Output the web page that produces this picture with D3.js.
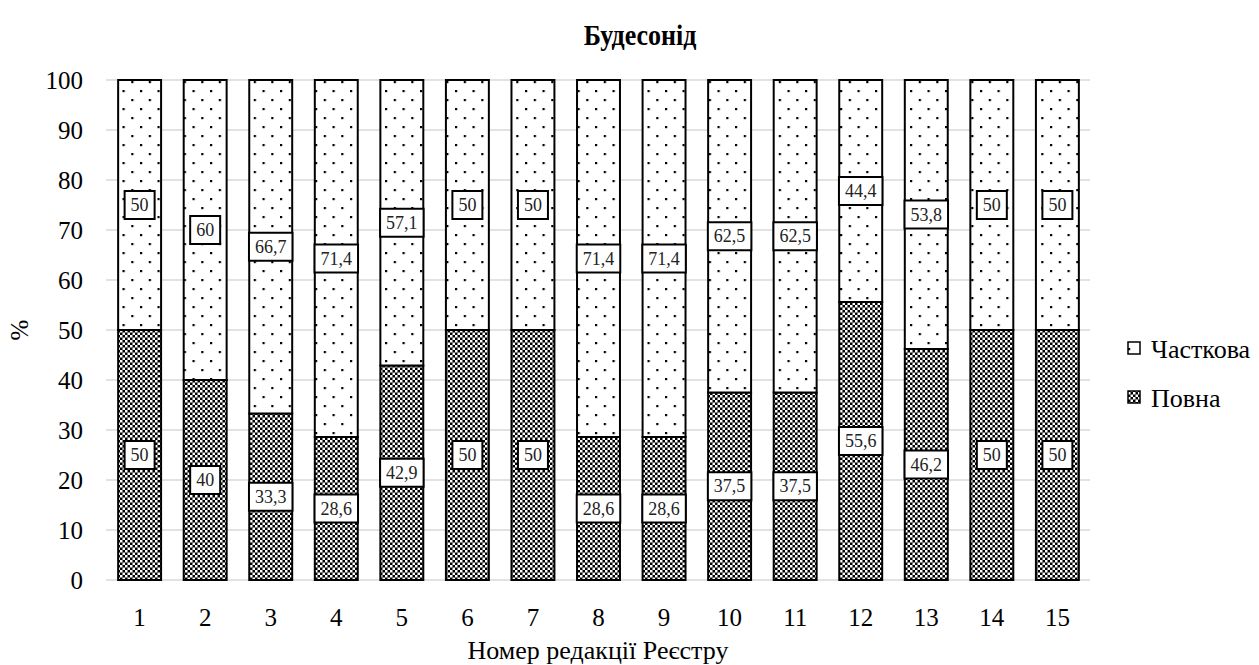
<!DOCTYPE html>
<html>
<head>
  <meta charset="UTF-8">
  <title>Будесонід</title>
  <style>
  body{
    margin: 0;
    background: #fff;
  }
  svg, svg text{
    font-family: "Liberation Serif", "DejaVu Serif", serif !important;
  }
  </style>
</head>
<body>
  <script src="https://cdn.jsdelivr.net/npm/d3@7/dist/d3.min.js"></script>
  <script type="text/javascript">
  // дані
  var categories = ['1','2','3','4','5','6','7','8','9','10','11','12','13','14','15'];
  var povna = [50, 40, 33.3, 28.6, 42.9, 50, 50, 28.6, 28.6, 37.5, 37.5, 55.6, 46.2, 50, 50];
  var chastkova = [50, 60, 66.7, 71.4, 57.1, 50, 50, 71.4, 71.4, 62.5, 62.5, 44.4, 53.8, 50, 50];
  var seriesNames = ['Повна', 'Часткова'];
  var yTicks = [0, 10, 20, 30, 40, 50, 60, 70, 80, 90, 100];

  var width = 1259, height = 665;
  var margin = {top: 80, left: 107, right: 169, bottom: 85};

  var svg = d3.select('body').append('svg')
    .attr('width', width)
    .attr('height', height);

  // візерунки
  var defs = svg.append('defs');
  var dots = defs.append('pattern')
    .attr('id', 'dots')
    .attr('patternUnits', 'userSpaceOnUse')
    .attr('width', 17.5).attr('height', 18);
  dots.append('rect').attr('width', 17.5).attr('height', 18).attr('fill', '#fff');
  dots.append('rect').attr('x', 0).attr('y', 0).attr('width', 2.2).attr('height', 2.2).attr('fill', '#000');
  dots.append('rect').attr('x', 8.75).attr('y', 9).attr('width', 2.2).attr('height', 2.2).attr('fill', '#000');

  var checker = defs.append('pattern')
    .attr('id', 'checker')
    .attr('patternUnits', 'userSpaceOnUse')
    .attr('width', 5).attr('height', 5);
  checker.append('rect').attr('width', 5).attr('height', 5).attr('fill', '#000');
  checker.append('rect').attr('x', 0).attr('y', 0).attr('width', 2.5).attr('height', 2.5).attr('fill', '#fff');
  checker.append('rect').attr('x', 2.5).attr('y', 2.5).attr('width', 2.5).attr('height', 2.5).attr('fill', '#fff');

  // шкали
  var x = d3.scaleBand()
    .domain(categories)
    .range([margin.left, width - margin.right])
    .paddingInner(0.345)
    .paddingOuter(0.17);
  var y = d3.scaleLinear()
    .domain([0, 100])
    .range([height - margin.bottom, margin.top]);

  // сітка
  svg.append('g').selectAll('line')
    .data(yTicks)
    .enter()
    .append('line')
    .attr('x1', margin.left - 1)
    .attr('x2', width - margin.right)
    .attr('y1', function(d){ return y(d); })
    .attr('y2', function(d){ return y(d); })
    .attr('stroke', '#d9d9d9')
    .attr('stroke-width', 1.5);

  // вісь Y
  var yAxis = svg.append('g')
    .attr('transform', 'translate(' + (margin.left - 24) + ',0)')
    .call(d3.axisLeft(y).tickValues(yTicks).tickSize(0).tickPadding(0));
  yAxis.select('.domain').remove();
  yAxis.attr('font-family', null);
  yAxis.selectAll('text').attr('font-size', 25).attr('fill', '#000');

  // вісь X
  var xAxis = svg.append('g')
    .attr('transform', 'translate(0,' + (height - margin.bottom) + ')')
    .call(d3.axisBottom(x).tickSize(0).tickPadding(28));
  xAxis.select('.domain').remove();
  xAxis.attr('font-family', null);
  xAxis.selectAll('text').attr('font-size', 25).attr('fill', '#000');

  // стовпці
  var stackData = categories.map(function(c, i){
    return {cat: c, 'Повна': povna[i], 'Часткова': chastkova[i]};
  });
  var stack = d3.stack().keys(seriesNames)(stackData);
  var fills = {'Повна': 'url(#checker)', 'Часткова': 'url(#dots)'};

  var layers = svg.append('g').selectAll('g')
    .data(stack)
    .enter()
    .append('g')
    .attr('fill', function(d){ return fills[d.key]; });

  layers.selectAll('rect')
    .data(function(d){ return d; })
    .enter()
    .append('rect')
    .attr('x', function(d){ return x(d.data.cat); })
    .attr('y', function(d){ return y(d[1]); })
    .attr('width', x.bandwidth())
    .attr('height', function(d){ return y(d[0]) - y(d[1]); })
    .attr('stroke', '#000')
    .attr('stroke-width', 2);

  // підписи
  var fmt = function(v){ return String(v).replace('.', ','); };
  stack.forEach(function(layer){
    layer.forEach(function(d){
      var v = d[1] - d[0];
      var cx = x(d.data.cat) + x.bandwidth() / 2;
      var cy = y((d[0] + d[1]) / 2);
      var g = svg.append('g');
      var t = g.append('text')
        .attr('x', cx)
        .attr('y', cy)
        .attr('text-anchor', 'middle')
        .attr('dominant-baseline', 'central')
        .attr('font-size', 18)
        .attr('fill', '#222')
        .text(fmt(v));
      var bb = t.node().getBBox();
      var w = bb.width + 12, h = 28;
      g.insert('rect', 'text')
        .attr('x', cx - w / 2)
        .attr('y', cy - h / 2)
        .attr('width', w)
        .attr('height', h)
        .attr('fill', '#fff')
        .attr('stroke', '#000')
        .attr('stroke-width', 2);
    });
  });

  // заголовок
  svg.append('text')
    .attr('transform', 'translate(640,45) scale(1,1.15)')
    .attr('text-anchor', 'middle')
    .attr('font-size', 26)
    .attr('font-weight', 'bold')
    .text('Будесонід');

  // підписи осей
  svg.append('text')
    .attr('x', 598)
    .attr('y', 659)
    .attr('text-anchor', 'middle')
    .attr('font-size', 26)
    .text('Номер редакції Реєстру');

  svg.append('text')
    .attr('transform', 'translate(28,330) rotate(-90)')
    .attr('text-anchor', 'middle')
    .attr('font-size', 25)
    .text('%');

  // легенда
  var legendItems = ['Часткова', 'Повна'];
  var legend = svg.append('g').selectAll('g')
    .data(legendItems)
    .enter()
    .append('g')
    .attr('transform', function(d, i){ return 'translate(1128,' + (348 + i * 49) + ')'; });
  legend.append('rect')
    .attr('x', 0).attr('y', -6)
    .attr('width', 12).attr('height', 12)
    .attr('fill', function(d){ return fills[d]; })
    .attr('stroke', '#000')
    .attr('stroke-width', 1.5);
  legend.append('text')
    .attr('x', 23)
    .attr('y', 1)
    .attr('dominant-baseline', 'central')
    .attr('font-size', 26)
    .text(function(d){ return d; });
  </script>
</body>
</html>
